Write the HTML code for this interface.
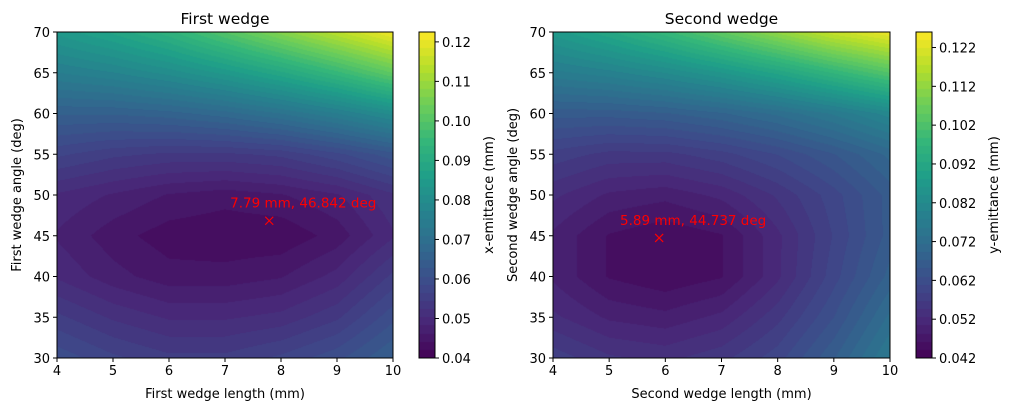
<!DOCTYPE html>
<html><head><meta charset="utf-8"><style>
body{margin:0;background:#fff;width:1010px;height:411px;overflow:hidden;position:relative;font-family:"DejaVu Sans",sans-serif}
canvas,svg{position:absolute;left:0;top:0}
text{font-family:"DejaVu Sans","Liberation Sans",sans-serif;fill:#000}
</style></head><body>
<canvas id="cv" width="1010" height="411"></canvas>
<svg id="sv" width="1010" height="411"></svg>
<script>
const xGrid=[4,5,6,7,8,9,10];
const yGrid=[30,35,40,45,50,55,60,65,70];
const leftValues=[
[0.060,0.057,0.055,0.055,0.057,0.060,0.065],
[0.055,0.052,0.050,0.050,0.051,0.054,0.060],
[0.050,0.047,0.045,0.045,0.046,0.049,0.055],
[0.048,0.045,0.043,0.0425,0.0425,0.045,0.050],
[0.050,0.048,0.046,0.045,0.046,0.048,0.052],
[0.057,0.055,0.054,0.054,0.055,0.058,0.062],
[0.065,0.065,0.066,0.068,0.071,0.075,0.080],
[0.075,0.077,0.080,0.084,0.089,0.095,0.102],
[0.084,0.088,0.093,0.100,0.107,0.114,0.121]];
const rightValues=[
[0.058,0.055,0.054,0.056,0.060,0.067,0.076],
[0.053,0.050,0.049,0.051,0.056,0.063,0.072],
[0.050,0.046,0.0445,0.046,0.052,0.060,0.068],
[0.050,0.046,0.0445,0.046,0.052,0.059,0.066],
[0.053,0.050,0.049,0.051,0.055,0.060,0.066],
[0.058,0.056,0.056,0.058,0.061,0.065,0.070],
[0.066,0.066,0.067,0.069,0.072,0.076,0.081],
[0.077,0.079,0.082,0.086,0.091,0.097,0.103],
[0.087,0.092,0.098,0.105,0.112,0.119,0.124]];
const xTicks=[4,5,6,7,8,9,10];
const yTicks=[30,35,40,45,50,55,60,65,70];
const leftCbTicks=[0.04,0.05,0.06,0.07,0.08,0.09,0.10,0.11,0.12];
const rightCbTicks=[0.042,0.052,0.062,0.072,0.082,0.092,0.102,0.112,0.122];
const leftOpt=[7.79,46.842];
const rightOpt=[5.89,44.737];

const VIR=["#440154","#482878","#3e4989","#31688e","#26828e","#1f9e89","#35b779","#6ece58","#b5de2b","#fde725"].map(h=>[1,3,5].map(i=>parseInt(h.substr(i,2),16)));
function vir(t){t=Math.max(0,Math.min(1,t));const p=t*9,i=Math.min(8,Math.floor(p)),f=p-i;return VIR[i].map((c,k)=>Math.round(c+(VIR[i+1][k]-c)*f));}
function interp(vals,x,y){
  let i=Math.min(5,Math.max(0,Math.floor(x-4))),fx=(x-4)-i;
  let j=Math.min(7,Math.max(0,Math.floor((y-30)/5))),fy=(y-30)/5-j;
  const a=vals[j][i],b=vals[j][i+1],c=vals[j+1][i],d=vals[j+1][i+1];
  return a*(1-fx)*(1-fy)+b*fx*(1-fy)+c*(1-fx)*fy+d*fx*fy;
}
const ctx=document.getElementById('cv').getContext('2d');
const sv=document.getElementById('sv');
const NS="http://www.w3.org/2000/svg";
function el(tag,attrs,txt){const e=document.createElementNS(NS,tag);for(const k in attrs)e.setAttribute(k,attrs[k]);if(txt!==undefined)e.textContent=txt;sv.appendChild(e);return e;}

function panel(P){
  const {x0,x1,y0,y1,vals,vmin,vmax,cbx,cbw,ticks,opt,title,xl,yl,cl,dec,nm,cbo}=P;
  const sx=v=>x0+(v-4)/6*(x1-x0), sy=v=>y1-(v-30)/40*(y1-y0);
  const nl=40, step=(vmax-vmin)/nl;
  const img=ctx.createImageData(x1-x0,y1-y0);
  for(let py=0;py<y1-y0;py++)for(let px=0;px<x1-x0;px++){
    const xv=4+(px+0.5)/(x1-x0)*6, yv=70-(py+0.5)/(y1-y0)*40;
    let v=interp(vals,xv,yv);
    let q=Math.floor((v-vmin)/step); q=Math.max(0,Math.min(nl-1,q));
    const c=vir((q+0.5)/nl); const o=(py*(x1-x0)+px)*4;
    img.data[o]=c[0];img.data[o+1]=c[1];img.data[o+2]=c[2];img.data[o+3]=255;
  }
  ctx.putImageData(img,x0,y0);
  for(let py=y0;py<y1;py++){const t=(y1-py-0.5)/(y1-y0);const q=Math.min(nl-1,Math.floor(t*nl));const c=vir((q+0.5)/nl);ctx.fillStyle=`rgb(${c})`;ctx.fillRect(cbx,py,cbw,1);}
  const ax=el('rect',{x:x0,y:y0,width:x1-x0,height:y1-y0,fill:'none',stroke:'#000','stroke-width':1});
  
  const cb=el('rect',{x:cbx,y:y0,width:cbw,height:y1-y0,fill:'none',stroke:'#000','stroke-width':1});
  
  xTicks.forEach(t=>{const X=sx(t);el('line',{x1:X,x2:X,y1:y1,y2:y1+4,stroke:'#000'});
    const tx=el('text',{x:X,y:y1+17,'font-size':13,'text-anchor':'middle'},t);});
  yTicks.forEach(t=>{const Y=sy(t);el('line',{x1:x0-4,x2:x0,y1:Y,y2:Y,stroke:'#000'});
    const tx=el('text',{x:x0-7,y:Y+5,'font-size':13,'text-anchor':'end'},t);});
  ticks.forEach(t=>{const Y=y1-(t-vmin)/(vmax-vmin)*(y1-y0);el('line',{x1:cbx+cbw,x2:cbx+cbw+4,y1:Y,y2:Y,stroke:'#000'});
    const tx=el('text',{x:cbx+cbw+7,y:Y+5,'font-size':13},t.toFixed(dec));});
  const tt=el('text',{x:(x0+x1)/2,y:24,'font-size':15.5,'text-anchor':'middle'},title);
  const xt=el('text',{x:(x0+x1)/2,y:398,'font-size':13,'text-anchor':'middle'},xl);
  const yt=el('text',{x:0,y:0,'font-size':13,'text-anchor':'middle',transform:`translate(${x0-36},${(y0+y1)/2}) rotate(-90)`},yl);
  const ct=el('text',{x:0,y:0,'font-size':13,'text-anchor':'middle',transform:`translate(${cbx+cbw+cbo},${(y0+y1)/2}) rotate(-90)`},cl);
  const mx=sx(opt[0]),my=sy(opt[1]);
  const m=el('path',{d:`M${mx-4},${my-4}L${mx+4},${my+4}M${mx-4},${my+4}L${mx+4},${my-4}`,stroke:'red','stroke-width':1.2,fill:'none'});
  
  const ml=el('text',{x:mx+34,y:my-13,'font-size':13.5,'text-anchor':'middle',style:'fill:red'},`${opt[0]} mm, ${opt[1]} deg`);
  
}
panel({x0:57,x1:393,y0:32,y1:358,vals:leftValues,vmin:0.04,vmax:0.1225,cbx:419,cbw:16,ticks:leftCbTicks,opt:leftOpt,title:'First wedge',xl:'First wedge length (mm)',yl:'First wedge angle (deg)',cl:'x-emittance (mm)',dec:2,nm:'first',cbo:58});
panel({x0:553,x1:890,y0:32,y1:358,vals:rightValues,vmin:0.042,vmax:0.126,cbx:916,cbw:16,ticks:rightCbTicks,opt:rightOpt,title:'Second wedge',xl:'Second wedge length (mm)',yl:'Second wedge angle (deg)',cl:'y-emittance (mm)',dec:3,nm:'second',cbo:66});
</script>
</body></html>
